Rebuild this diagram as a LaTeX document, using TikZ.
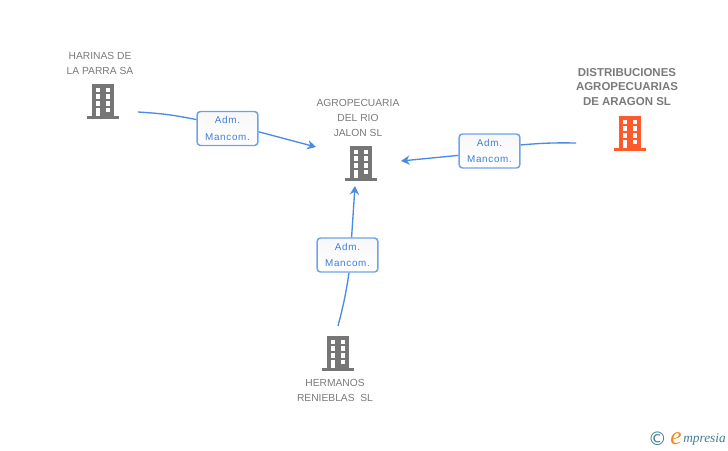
\documentclass[tikz,border=0pt]{standalone}
\usepackage{fontspec}
\setmainfont{Liberation Sans}
\newfontfamily\admfont[LetterSpace=7]{Liberation Sans}
\newfontfamily\logofont{Liberation Serif}
\newfontfamily\symfont{DejaVu Sans}
\usepackage{tikz}
\usetikzlibrary{arrows.meta}
\usetikzlibrary{calc}
\definecolor{txtgray}{HTML}{7A7A7A}
\definecolor{bldgray}{HTML}{767676}
\definecolor{bldred}{HTML}{FF5A2B}
\definecolor{linkblue}{HTML}{4A8BE6}
\definecolor{admblue}{HTML}{3F7FDB}
\definecolor{logoteal}{HTML}{3F7F96}
\definecolor{logoorange}{HTML}{F08A1D}
\tikzset{
	lbl/.style={font=\fontsize{7.7}{11.3}\selectfont, text=txtgray, align=center, inner sep=0pt},
	lblbold/.style={lbl, font=\fontsize{8.6}{11.1}\selectfont\bfseries},
	admbox/.style={draw=linkblue!80, line width=1.1pt, rounded corners=2.5pt, top color=black!3, bottom color=white,
		minimum width=45.5pt, minimum height=25.5pt, inner sep=0pt, align=center, text=admblue,
		font=\admfont\fontsize{7.4}{12.2}\selectfont},
	link/.style={draw=linkblue, line width=1pt},
	linkarrow/.style={link, -{Stealth[length=6.5pt,width=7pt]}}
}
\newcommand{\building}[4]% name, x, y, colour
{
	\node[fill=#4, minimum width=16.5pt, minimum height=24pt, inner sep=0pt] (#1) at (#2,#3) {};
	\fill[#4] ($(#1.center)+(-15.7,15.5)$) rectangle +(31.4,3);
	\foreach \dx in {-7.3,2.7}
		\foreach \dy in {-12.3,-5.7,1}
			\fill[white] ($(#1.center)+(\dx,\dy)$) rectangle +(4.6,4.5);
	\fill[white] ($(#1.center)+(2.7,7.7)$) rectangle +(4.6,4.5);%last window
	\fill[white] ($(#1.center)+(-7.3,7.7)$) rectangle +(4.6,7.8);%door
}

\begin{document}
\begin{tikzpicture}[x=.75pt, y=-.75pt]
	\useasboundingbox (0,0) rectangle (728,450);
	\building{harinas}{103}{100}{bldgray}
	\building{agro}{361}{162}{bldgray}
	\building{distrib}{630}{132}{bldred}
	\building{hermanos}{338}{352}{bldgray}
	\node[lbl] (harinaslbl) at (100,63.5) {HARINAS DE\\LA PARRA SA};
	\node[lbl] (agrolbl) at (358,118) {AGROPECUARIA\\DEL RIO\\JALON SL};
	\node[lblbold] (distriblbl) at (627,87) {DISTRIBUCIONES\\AGROPECUARIAS\\DE ARAGON SL};
	\node[lbl] (hermanoslbl) at (335,390.5) {HERMANOS\\RENIEBLAS\ \ SL};
	\node[admbox] (adm1) at (227.5,128.5) {Adm.\\Mancom.};
	\node[admbox] (adm2) at (489.5,151) {Adm.\\Mancom.};
	\node[admbox] (adm3) at (347.5,255) {Adm.\\Mancom.};
	\coordinate (from1) at (138,112);
	\coordinate (to1) at (316,147);
	\coordinate (from2) at (576,143);
	\coordinate (to2) at (401,161);
	\coordinate (from3) at (338,326);
	\coordinate (to3) at (355,186);
	\draw[link] (from1) to[bend left=4] (adm1.164);
	\draw[linkarrow] (adm1.-6) -- (to1);
	\draw[link] (from2) to[bend right=3] (adm2.11);
	\draw[linkarrow] (adm2.188) -- (to2);
	\draw[link] (from3) to[bend right=3] (adm3.-85);
	\draw[linkarrow] (adm3.77) -- (to3);
	\node[inner sep=0pt, text=logoteal, font=\symfont\fontsize{14}{14}\selectfont] (logoc) at (657.5,438.5) {©};
	\node[inner sep=0pt, text=logoorange, font=\logofont\itshape\fontsize{19}{19}\selectfont] (logoe) at (676,438.5) {e};
	\node[inner sep=0pt, text=logoteal, font=\logofont\itshape\fontsize{10}{10}\selectfont, anchor=base west] (logotxt) at (683,442.5) {mpresia};
\end{tikzpicture}
\end{document}
